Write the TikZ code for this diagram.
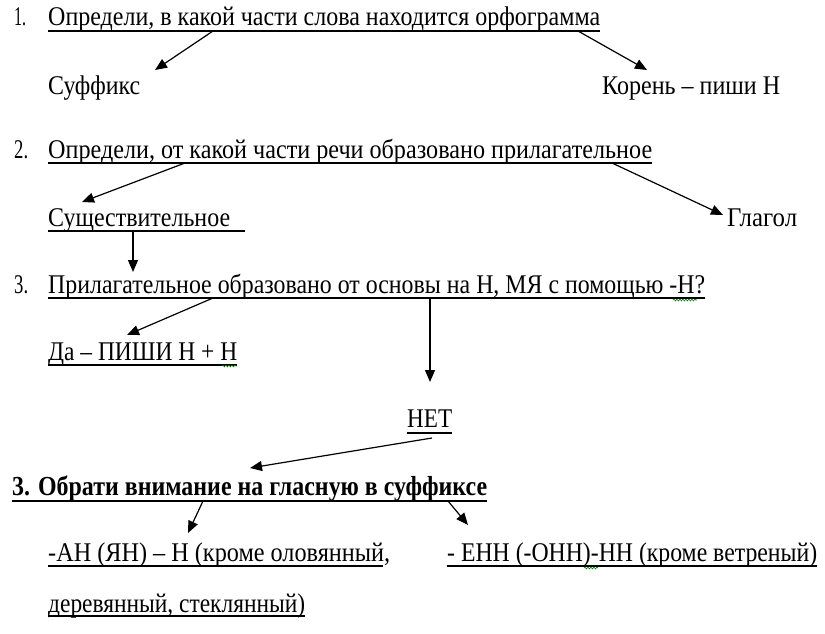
\documentclass[tikz,border=0pt]{standalone}
\usepackage{fontspec}
\setmainfont{Liberation Serif}
\usepackage{graphicx}
\usetikzlibrary{arrows.meta,decorations.pathmorphing}
\newcommand\fw[2]{\resizebox{#1}{\height}{#2}}
\begin{document}
\begin{tikzpicture}[x=1pt,y=-1pt,
  txt/.style={anchor=base west,inner sep=0pt,font=\fontsize{27}{30}\selectfont},
  btxt/.style={txt,font=\fontsize{27.5}{30}\selectfont\bfseries},
  ul/.style={line width=1.2pt},
  bul/.style={line width=2pt},
  arr/.style={line width=1.2pt,-{Triangle[length=12pt,width=10pt]}},
  squig/.style={green!50!black,line width=0.6pt,decorate,decoration={snake,amplitude=0.9pt,segment length=3pt}}]
\useasboundingbox (0,0) rectangle (825,634);
\fill[white] (0,0) rectangle (825,634);
% texts
\node[txt] (n1) at (14,26) {\fw{12pt}{1.}};
\node[txt] (t1) at (48,26) {\fw{552pt}{Определи, в какой части слова находится орфограмма}};
\node[txt] (suf) at (48,95) {\fw{92pt}{Суффикс}};
\node[txt] (kor) at (602,95) {\fw{178pt}{Корень – пиши Н}};
\node[txt] (n2) at (14,158) {\fw{14pt}{2.}};
\node[txt] (t2) at (48,158) {\fw{604pt}{Определи, от какой части речи образовано прилагательное}};
\node[txt] (sus) at (48,226) {\fw{182pt}{Существительное}};
\node[txt] (gla) at (727,226) {\fw{70pt}{Глагол}};
\node[txt] (n3) at (14,293) {\fw{14pt}{3.}};
\node[txt] (t3) at (48,293) {\fw{657pt}{Прилагательное образовано от основы на Н, МЯ с помощью -Н?}};
\node[txt] (da) at (48,360) {\fw{189pt}{Да – ПИШИ Н + Н}};
\node[txt] (net) at (407,427) {\fw{45pt}{НЕТ}};
\node[btxt] (t4) at (12,495) {\fw{475pt}{3. Обрати внимание на гласную в суффиксе}};
\node[txt] (an) at (48,561) {\fw{342pt}{-АН (ЯН) – Н (кроме оловянный,}};
\node[txt] (enn) at (447,561) {\fw{370pt}{- ЕНН (-ОНН)-НН (кроме ветреный)}};
\node[txt] (der) at (48,612) {\fw{257pt}{деревянный, стеклянный)}};
% underlines
\draw[ul] ([yshift=-5pt]t1.base west) -- ([yshift=-5pt]t1.base east);
\draw[ul] ([yshift=-5pt]t2.base west) -- ([yshift=-5pt]t2.base east);
\draw[ul] ([yshift=-5pt]sus.base west) -- ([xshift=15pt,yshift=-5pt]sus.base east);
\draw[ul] ([yshift=-5pt]t3.base west) -- ([yshift=-5pt]t3.base east);
\draw[ul] ([yshift=-5pt]da.base west) -- ([yshift=-5pt]da.base east);
\draw[bul] ([yshift=-5.5pt]net.base west) -- ([yshift=-5.5pt]net.base east);
\draw[bul] ([yshift=-5.5pt]t4.base west) -- ([yshift=-5.5pt]t4.base east);
\draw[ul] ([yshift=-5pt]an.base west) -- ([xshift=-7pt,yshift=-5pt]an.base east);
\draw[ul] ([yshift=-5pt]enn.base west) -- ([yshift=-5pt]enn.base east);
\draw[ul] ([yshift=-4pt]der.base west) -- ([yshift=-4pt]der.base east);
% spell-check squiggles
\draw[squig] (673,300) -- (697,300);
\draw[squig] (222,366) -- (237,366);
\draw[squig] (584,568) -- (598,568);
% arrow endpoints
\coordinate (a1s) at (213,31);  \coordinate (a1e) at (155,70);
\coordinate (a2s) at (578,31);  \coordinate (a2e) at (647,70);
\coordinate (a3s) at (185,163); \coordinate (a3e) at (82,202);
\coordinate (a4s) at (612,163); \coordinate (a4e) at (723,215);
\coordinate (a5s) at (133,231); \coordinate (a5e) at (133,272);
\coordinate (a6s) at (213,298); \coordinate (a6e) at (127,335);
\coordinate (a7s) at (430,298); \coordinate (a7e) at (430,382);
\coordinate (a8s) at (432,438); \coordinate (a8e) at (250,468);
\coordinate (a9s) at (203,501); \coordinate (a9e) at (188,533);
\coordinate (a10s) at (448,501); \coordinate (a10e) at (468,525);
\draw[arr] (a1s) -- (a1e);
\draw[arr] (a2s) -- (a2e);
\draw[arr] (a3s) -- (a3e);
\draw[arr] (a4s) -- (a4e);
\draw[arr] (a5s) -- (a5e);
\draw[arr] (a6s) -- (a6e);
\draw[arr] (a7s) -- (a7e);
\draw[arr] (a8s) -- (a8e);
\draw[arr] (a9s) -- (a9e);
\draw[arr] (a10s) -- (a10e);
\end{tikzpicture}
\end{document}
